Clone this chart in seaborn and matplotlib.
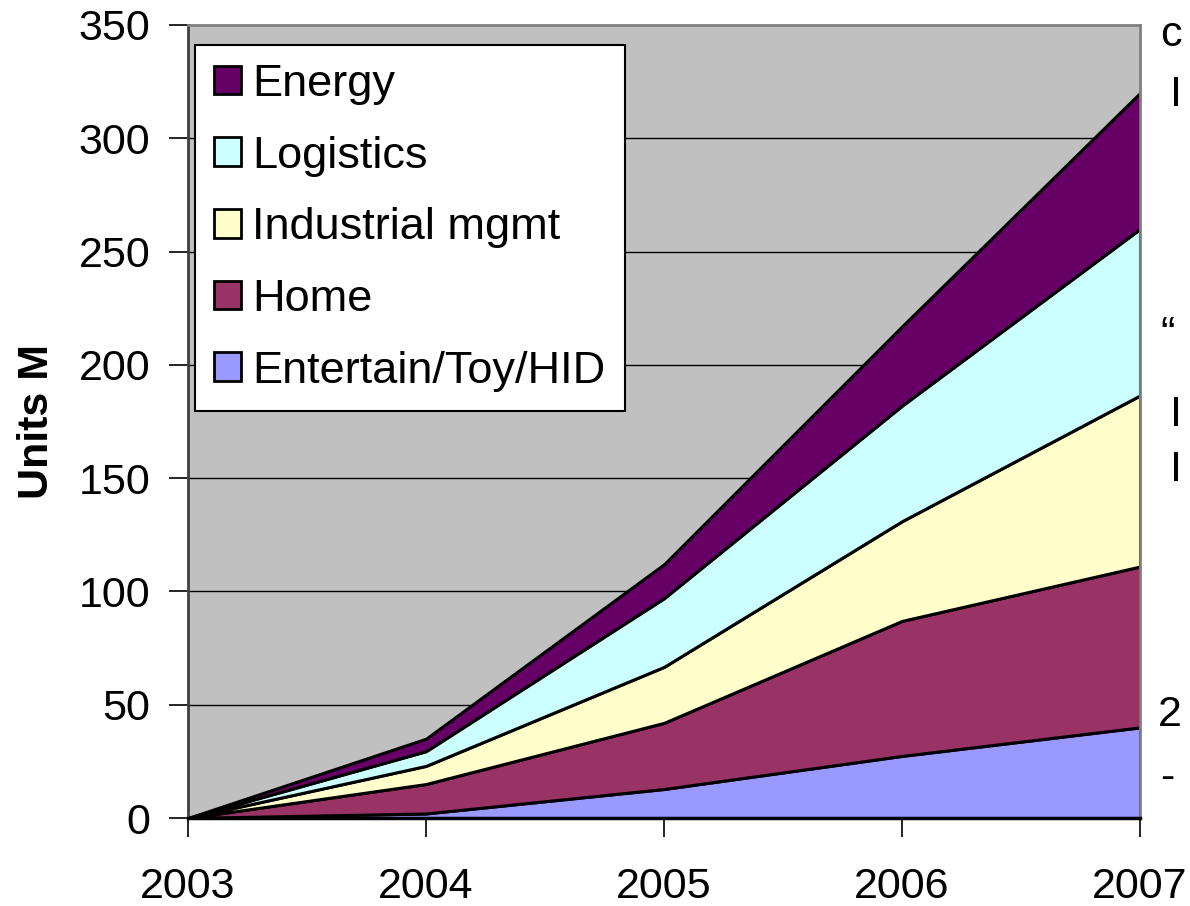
import numpy as np
import pandas as pd
import matplotlib
matplotlib.use("Agg")
import matplotlib.pyplot as plt
import seaborn as sns

years = [2003, 2004, 2005, 2006, 2007]
series_names = ["Entertain/Toy/HID", "Home", "Industrial mgmt", "Logistics", "Energy"]
# per-series values (Units M), stacked bottom to top
entertain = [0, 2, 12.8, 27.4, 40]
home = [0, 13, 29.2, 59.6, 71]
industrial = [0, 8, 24.7, 44, 75.5]
logistics = [0, 6.5, 30.3, 51, 73.5]
energy = [0, 5.5, 15, 35, 60]
series_colors = ["#9999FF", "#993366", "#FFFFCC", "#CCFFFF", "#660066"]
y_ticks = [0, 50, 100, 150, 200, 250, 300, 350]

sns.set_style("white", {"axes.facecolor": "#C0C0C0"})
plt.rcParams["font.family"] = ["Liberation Sans", "DejaVu Sans"]
plt.rcParams.update({"text.color": "black", "axes.labelcolor": "black",
                     "xtick.color": "black", "ytick.color": "black"})

W, H = 1190, 906
fig = plt.figure(figsize=(W / 100, H / 100), dpi=100)
ax = fig.add_axes([188 / W, 1 - 818 / H, (1140 - 188) / W, (818 - 25) / H])

df = pd.DataFrame({"year": years, "Entertain/Toy/HID": entertain, "Home": home,
                   "Industrial mgmt": industrial, "Logistics": logistics, "Energy": energy})
ys = [df[n].values for n in series_names]

for t in y_ticks[1:-1]:
    ax.axhline(t, color="black", lw=1.0, zorder=0.5)

ax.stackplot(df["year"], *ys, colors=series_colors, edgecolor="black",
             linewidth=2.2, labels=series_names, zorder=2)

ax.set_xlim(2003, 2007)
ax.set_ylim(0, 350)
ax.set_xticks(years)
ax.set_yticks(y_ticks)
ax.tick_params(axis="both", labelsize=31, length=14, width=1.2, color="black",
               labelcolor="black", direction="out", left=True, bottom=True)
ax.tick_params(axis="x", pad=21)
ax.tick_params(axis="y", pad=13)
ax.set_ylabel("Units M", fontsize=31, fontweight="bold", labelpad=16, color="black")
ax.grid(False)

for s in ["top", "right"]:
    ax.spines[s].set_color("#808080")
    ax.spines[s].set_linewidth(2)
ax.spines["left"].set_color("#404040")
ax.spines["left"].set_linewidth(2)
ax.spines["bottom"].set_color("black")
ax.spines["bottom"].set_linewidth(2.5)

handles, labels = ax.get_legend_handles_labels()
leg = ax.legend(handles[::-1], labels[::-1], loc="upper left",
                bbox_to_anchor=(195 / W, 1 - 45 / H), bbox_transform=fig.transFigure,
                fontsize=32.5, frameon=True, fancybox=False, framealpha=1,
                edgecolor="black", facecolor="white", handlelength=0.6,
                handleheight=0.6, handletextpad=0.25, labelspacing=0.68,
                borderpad=0.42, borderaxespad=0, labelcolor="black")
leg.get_frame().set_linewidth(1.5)
for h in leg.legend_handles:
    h.set_edgecolor("black")
    h.set_linewidth(2)

# clipped slide text fragments at right edge
frags = [(1160, 35, "c"), (1170, 95, "I"), (1160, 335, "\u201c"), (1170, 415, "I"),
         (1170, 470, "I"), (1158, 715, "2"), (1160, 778, "-")]
for x, y, s in frags:
    fig.text(x / W, 1 - y / H, s, fontsize=31, va="center", ha="left", color="black")

fig.savefig("out.png", dpi=100)
